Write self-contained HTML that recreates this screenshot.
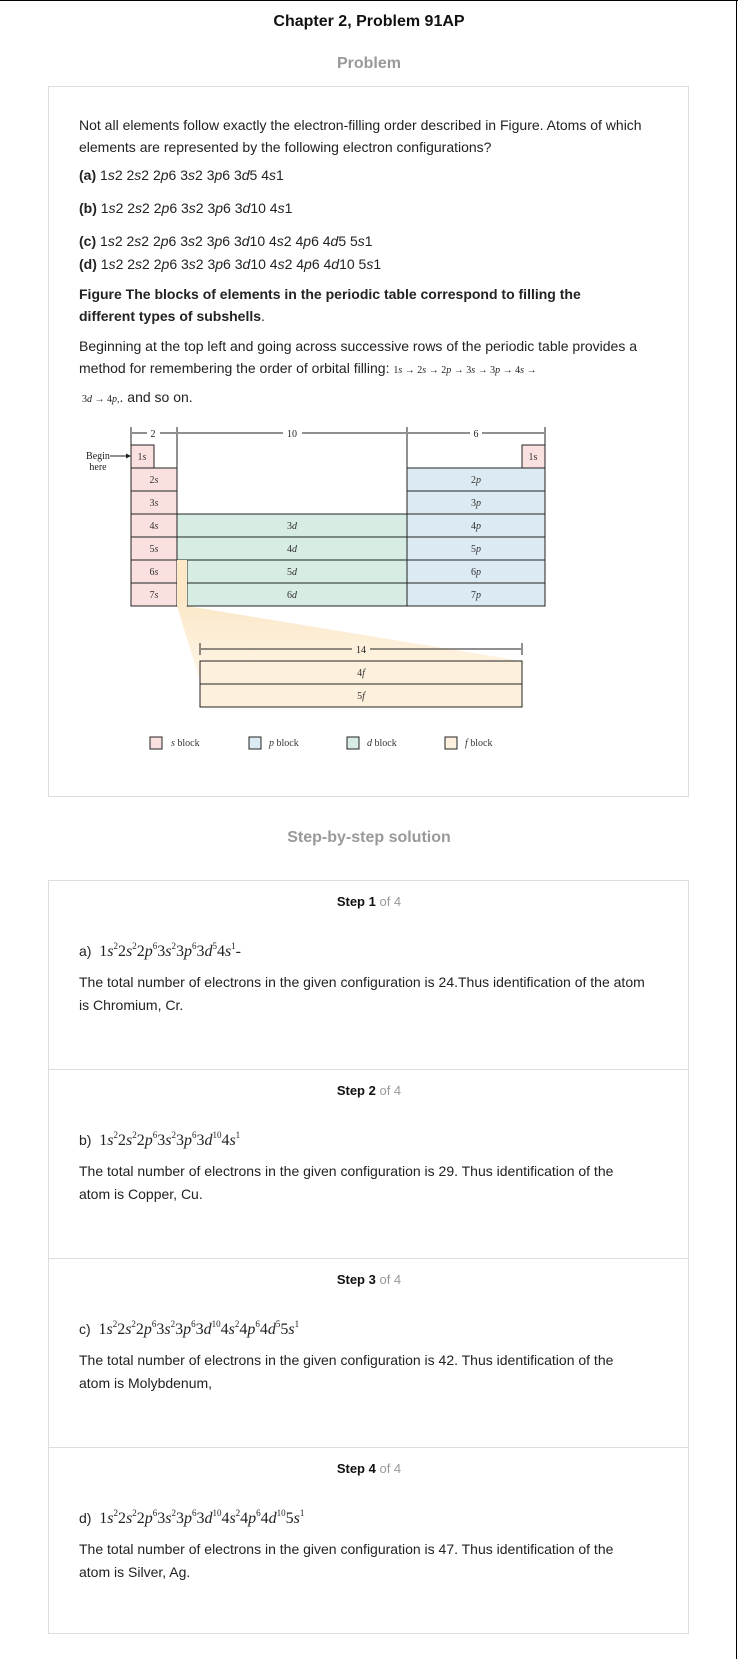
<!DOCTYPE html>
<html><head><meta charset="utf-8">
<style>
body{margin:0;background:#fff;}
#page{position:relative;width:738px;height:1659px;overflow:hidden;font-family:"Liberation Sans",sans-serif;color:#222;border-top:1px solid #000;box-sizing:border-box;}
#page:after{content:"";position:absolute;right:1px;top:0;width:1px;height:1659px;background:#000;}
.t{position:absolute;white-space:nowrap;font-size:14px;line-height:20px;}
.c{left:0;width:738px;text-align:center;}
.box{position:absolute;border:1px solid #ddd;box-sizing:border-box;}
.hr{position:absolute;left:48px;width:641px;height:1px;background:#ddd;}
.f{font-family:"Liberation Serif",serif;font-style:italic;font-size:16px;}
.f sup{font-size:9px;font-style:normal;vertical-align:7px;line-height:0;}
.n{font-style:normal;}
.g{color:#999;}
i{font-style:italic;}
.sm{font-family:"Liberation Serif",serif;font-size:10px;}
</style></head><body>
<div id="page">
<div class="t c" style="top:11px;font-size:16px;font-weight:bold;color:#111">Chapter 2, Problem 91AP</div>
<div class="t c" style="top:53px;font-size:16px;font-weight:bold;color:#999">Problem</div>
<div class="box" style="left:48px;top:85px;width:641px;height:711px"></div>
<div class="t" style="left:79px;top:114px">Not all elements follow exactly the electron-filling order described in Figure. Atoms of which</div>
<div class="t" style="left:79px;top:136px">elements are represented by the following electron configurations?</div>
<div class="t" style="left:79px;top:164px"><b>(a)</b> 1<i>s</i>2 2<i>s</i>2 2<i>p</i>6 3<i>s</i>2 3<i>p</i>6 3<i>d</i>5 4<i>s</i>1</div>
<div class="t" style="left:79px;top:197px"><b>(b)</b> 1<i>s</i>2 2<i>s</i>2 2<i>p</i>6 3<i>s</i>2 3<i>p</i>6 3<i>d</i>10 4<i>s</i>1</div>
<div class="t" style="left:79px;top:230px"><b>(c)</b> 1<i>s</i>2 2<i>s</i>2 2<i>p</i>6 3<i>s</i>2 3<i>p</i>6 3<i>d</i>10 4<i>s</i>2 4<i>p</i>6 4<i>d</i>5 5<i>s</i>1</div>
<div class="t" style="left:79px;top:253px"><b>(d)</b> 1<i>s</i>2 2<i>s</i>2 2<i>p</i>6 3<i>s</i>2 3<i>p</i>6 3<i>d</i>10 4<i>s</i>2 4<i>p</i>6 4<i>d</i>10 5<i>s</i>1</div>
<div class="t" style="left:79px;top:283px;font-weight:bold">Figure The blocks of elements in the periodic table correspond to filling the</div>
<div class="t" style="left:79px;top:305px"><b>different types of subshells</b>.</div>
<div class="t" style="left:79px;top:335px">Beginning at the top left and going across successive rows of the periodic table provides a</div>
<div class="t" style="left:79px;top:357px">method for remembering the order of orbital filling: <span class="sm">1<i>s</i> → 2<i>s</i> → 2<i>p</i> → 3<i>s</i> → 3<i>p</i> → 4<i>s</i> →</span></div>
<div class="t" style="left:82px;top:386px"><span class="sm">3<i>d</i> → 4<i>p</i>,</span>. and so on.</div>

<svg style="position:absolute;left:0;top:0" width="738" height="800" font-family="Liberation Serif" font-size="10" font-style="italic">
<defs><linearGradient id="gr" x1="0" y1="0" x2="0" y2="1"><stop offset="0" stop-color="#fbe3bd"/><stop offset="1" stop-color="#fff8ee"/></linearGradient></defs>
<polygon points="177,605 187,605 522,660 522,706 200,706 200,680" fill="url(#gr)" opacity="0.8"/>
<g stroke="#222" stroke-width="1">
<line x1="131" y1="426" x2="131" y2="444"/><line x1="177" y1="426" x2="177" y2="467"/><line x1="407" y1="426" x2="407" y2="467"/><line x1="545" y1="426" x2="545" y2="444"/>
<line x1="132" y1="432" x2="147" y2="432"/><line x1="160" y1="432" x2="176" y2="432"/>
<line x1="178" y1="432" x2="283" y2="432"/><line x1="302" y1="432" x2="406" y2="432"/>
<line x1="408" y1="432" x2="470" y2="432"/><line x1="482" y1="432" x2="544" y2="432"/>
<line x1="200" y1="642" x2="200" y2="654"/><line x1="522" y1="642" x2="522" y2="654"/>
<line x1="201" y1="648" x2="352" y2="648"/><line x1="370" y1="648" x2="521" y2="648"/>
<line x1="110" y1="455" x2="128" y2="455"/>
</g>
<g fill="#222" font-style="normal"><text x="153" y="436" text-anchor="middle">2</text><text x="292" y="436" text-anchor="middle">10</text><text x="476" y="436" text-anchor="middle">6</text><text x="361" y="652" text-anchor="middle">14</text>
<text x="98" y="458" text-anchor="middle">Begin</text><text x="98" y="469" text-anchor="middle">here</text>
<polygon points="131,455 126,452.5 126,457.5"/></g>
<g stroke="#222" stroke-width="1">
<rect x="131" y="444" width="23" height="23" fill="#fbe0e0"/><rect x="522" y="444" width="23" height="23" fill="#fbe0e0"/>
<rect x="131" y="467" width="46" height="23" fill="#fbe0e0"/><rect x="131" y="490" width="46" height="23" fill="#fbe0e0"/><rect x="131" y="513" width="46" height="23" fill="#fbe0e0"/><rect x="131" y="536" width="46" height="23" fill="#fbe0e0"/><rect x="131" y="559" width="46" height="23" fill="#fbe0e0"/><rect x="131" y="582" width="46" height="23" fill="#fbe0e0"/>
<rect x="177" y="513" width="230" height="23" fill="#d7ede4"/><rect x="177" y="536" width="230" height="23" fill="#d7ede4"/><rect x="187" y="559" width="220" height="23" fill="#d7ede4"/><rect x="187" y="582" width="220" height="23" fill="#d7ede4"/>
<rect x="177" y="559" width="10" height="46" fill="#fde9c8" stroke="none"/>
<rect x="407" y="467" width="138" height="23" fill="#dbeaf3"/><rect x="407" y="490" width="138" height="23" fill="#dbeaf3"/><rect x="407" y="513" width="138" height="23" fill="#dbeaf3"/><rect x="407" y="536" width="138" height="23" fill="#dbeaf3"/><rect x="407" y="559" width="138" height="23" fill="#dbeaf3"/><rect x="407" y="582" width="138" height="23" fill="#dbeaf3"/>
<rect x="200" y="660" width="322" height="23" fill="#fdf0dc"/><rect x="200" y="683" width="322" height="23" fill="#fdf0dc"/>
<rect x="150" y="736" width="12" height="12" fill="#fbe0e0"/><rect x="249" y="736" width="12" height="12" fill="#dbeaf3"/><rect x="347" y="736" width="12" height="12" fill="#d7ede4"/><rect x="445" y="736" width="12" height="12" fill="#fdf0dc"/>
</g>
<g fill="#333" text-anchor="middle">
<text x="142" y="459"><tspan font-style="normal">1</tspan>s</text><text x="533" y="459" font-style="normal">1s</text>
<text x="154" y="482"><tspan font-style="normal">2</tspan>s</text><text x="154" y="505"><tspan font-style="normal">3</tspan>s</text><text x="154" y="528"><tspan font-style="normal">4</tspan>s</text><text x="154" y="551"><tspan font-style="normal">5</tspan>s</text><text x="154" y="574"><tspan font-style="normal">6</tspan>s</text><text x="154" y="597"><tspan font-style="normal">7</tspan>s</text>
<text x="292" y="528"><tspan font-style="normal">3</tspan>d</text><text x="292" y="551"><tspan font-style="normal">4</tspan>d</text><text x="292" y="574"><tspan font-style="normal">5</tspan>d</text><text x="292" y="597"><tspan font-style="normal">6</tspan>d</text>
<text x="476" y="482"><tspan font-style="normal">2</tspan>p</text><text x="476" y="505"><tspan font-style="normal">3</tspan>p</text><text x="476" y="528"><tspan font-style="normal">4</tspan>p</text><text x="476" y="551"><tspan font-style="normal">5</tspan>p</text><text x="476" y="574"><tspan font-style="normal">6</tspan>p</text><text x="476" y="597"><tspan font-style="normal">7</tspan>p</text>
<text x="361" y="675"><tspan font-style="normal">4</tspan>f</text><text x="361" y="698"><tspan font-style="normal">5</tspan>f</text>
</g>
<g fill="#333"><text x="171" y="745">s<tspan font-style="normal"> block</tspan></text><text x="269" y="745">p<tspan font-style="normal"> block</tspan></text><text x="367" y="745">d<tspan font-style="normal"> block</tspan></text><text x="465" y="745">f<tspan font-style="normal"> block</tspan></text></g>
</svg>

<div class="t c" style="top:827px;font-size:16px;font-weight:bold;color:#999">Step-by-step solution</div>
<div class="box" style="left:48px;top:879px;width:641px;height:754px"></div>
<div class="hr" style="top:1068px"></div>
<div class="hr" style="top:1257px"></div>
<div class="hr" style="top:1446px"></div>

<div class="t c" style="top:891px;font-size:13px"><b style="color:#111">Step 1</b> <span class="g">of 4</span></div>
<div class="t" style="left:79px;top:940px">a) &nbsp;<span class="f"><span class="n">1</span>s<sup>2</sup><span class="n">2</span>s<sup>2</sup><span class="n">2</span>p<sup>6</sup><span class="n">3</span>s<sup>2</sup><span class="n">3</span>p<sup>6</sup><span class="n">3</span>d<sup>5</sup><span class="n">4</span>s<sup>1</sup><span class="n">-</span></span></div>
<div class="t" style="left:79px;top:971px">The total number of electrons in the given configuration is 24.Thus identification of the atom</div>
<div class="t" style="left:79px;top:994px">is Chromium, Cr.</div>

<div class="t c" style="top:1080px;font-size:13px"><b style="color:#111">Step 2</b> <span class="g">of 4</span></div>
<div class="t" style="left:79px;top:1129px">b) &nbsp;<span class="f"><span class="n">1</span>s<sup>2</sup><span class="n">2</span>s<sup>2</sup><span class="n">2</span>p<sup>6</sup><span class="n">3</span>s<sup>2</sup><span class="n">3</span>p<sup>6</sup><span class="n">3</span>d<sup>10</sup><span class="n">4</span>s<sup>1</sup></span></div>
<div class="t" style="left:79px;top:1160px">The total number of electrons in the given configuration is 29. Thus identification of the</div>
<div class="t" style="left:79px;top:1183px">atom is Copper, Cu.</div>

<div class="t c" style="top:1269px;font-size:13px"><b style="color:#111">Step 3</b> <span class="g">of 4</span></div>
<div class="t" style="left:79px;top:1318px">c) &nbsp;<span class="f"><span class="n">1</span>s<sup>2</sup><span class="n">2</span>s<sup>2</sup><span class="n">2</span>p<sup>6</sup><span class="n">3</span>s<sup>2</sup><span class="n">3</span>p<sup>6</sup><span class="n">3</span>d<sup>10</sup><span class="n">4</span>s<sup>2</sup><span class="n">4</span>p<sup>6</sup><span class="n">4</span>d<sup>5</sup><span class="n">5</span>s<sup>1</sup></span></div>
<div class="t" style="left:79px;top:1349px">The total number of electrons in the given configuration is 42. Thus identification of the</div>
<div class="t" style="left:79px;top:1372px">atom is Molybdenum,</div>

<div class="t c" style="top:1458px;font-size:13px"><b style="color:#111">Step 4</b> <span class="g">of 4</span></div>
<div class="t" style="left:79px;top:1507px">d) &nbsp;<span class="f"><span class="n">1</span>s<sup>2</sup><span class="n">2</span>s<sup>2</sup><span class="n">2</span>p<sup>6</sup><span class="n">3</span>s<sup>2</sup><span class="n">3</span>p<sup>6</sup><span class="n">3</span>d<sup>10</sup><span class="n">4</span>s<sup>2</sup><span class="n">4</span>p<sup>6</sup><span class="n">4</span>d<sup>10</sup><span class="n">5</span>s<sup>1</sup></span></div>
<div class="t" style="left:79px;top:1538px">The total number of electrons in the given configuration is 47. Thus identification of the</div>
<div class="t" style="left:79px;top:1561px">atom is Silver, Ag.</div>
</div>
</body></html>
